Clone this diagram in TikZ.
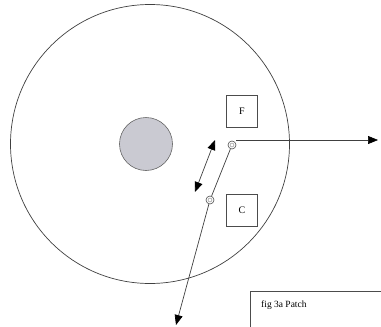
\documentclass[tikz,border=0pt]{standalone}
\usepackage{fontspec}
\setmainfont{Liberation Serif}
\usetikzlibrary{arrows.meta}
\definecolor{hubfill}{HTML}{CACAD2}
\begin{document}
\begin{tikzpicture}[x=1pt,y=-1pt,
  ln/.style={draw=black!75, line width=0.7pt},
  arr/.style={ln, -{Triangle[length=10pt,width=8pt,fill=black,color=black]}},
  dbl/.style={ln, {Triangle[length=10pt,width=8pt,fill=black,color=black]}-{Triangle[length=10pt,width=8pt,fill=black,color=black]}},
  lbox/.style={draw=black!70, line width=0.7pt, minimum width=31pt, minimum height=32pt, inner sep=0pt, font=\fontsize{10}{11}\selectfont},
  ring/.style={circle, draw=black!70, line width=0.6pt, minimum size=8pt, inner sep=0pt},
  ringin/.style={circle, draw=black!50, line width=0.4pt, minimum size=4pt, inner sep=0pt}]
\useasboundingbox (0,0) rectangle (381,327);
\fill[white] (0,0) rectangle (381,327);
% big disc
\node[circle, draw=black!75, line width=0.7pt, minimum size=279pt, inner sep=0pt] (disc) at (150,144) {};
% hub
\node[circle, draw=black!60, fill=hubfill, line width=0.6pt, minimum size=53pt, inner sep=0pt] (hub) at (146,144) {};
% labels
\node[lbox] (F) at (242,111) {F};
\node[lbox] (C) at (242,210) {C};
% rings
\node[ring] (r1) at (232,145) {};
\node[ringin] at (232,145) {};
\node[ring] (r2) at (210,200) {};
\node[ringin] at (210,200) {};
% ends
\coordinate (e1) at (378,140);
\coordinate (e2) at (176,325);
\coordinate (d1) at (215,140);
\coordinate (d2) at (195,192);
\draw[arr] (236,140) -- (e1);
\draw[ln] (r1) -- (r2);
\draw[arr] (r2) -- (e2);
\draw[dbl] (d1) -- (d2);
% caption
\node[draw=black!70, line width=0.7pt, anchor=north west, minimum width=140pt, minimum height=40pt, inner sep=0pt] (cap) at (250,291) {};
\node[anchor=west, font=\fontsize{9.5}{10}\selectfont, inner sep=0pt] (captext) at (261,305) {fig 3a Patch};
\end{tikzpicture}
\end{document}
